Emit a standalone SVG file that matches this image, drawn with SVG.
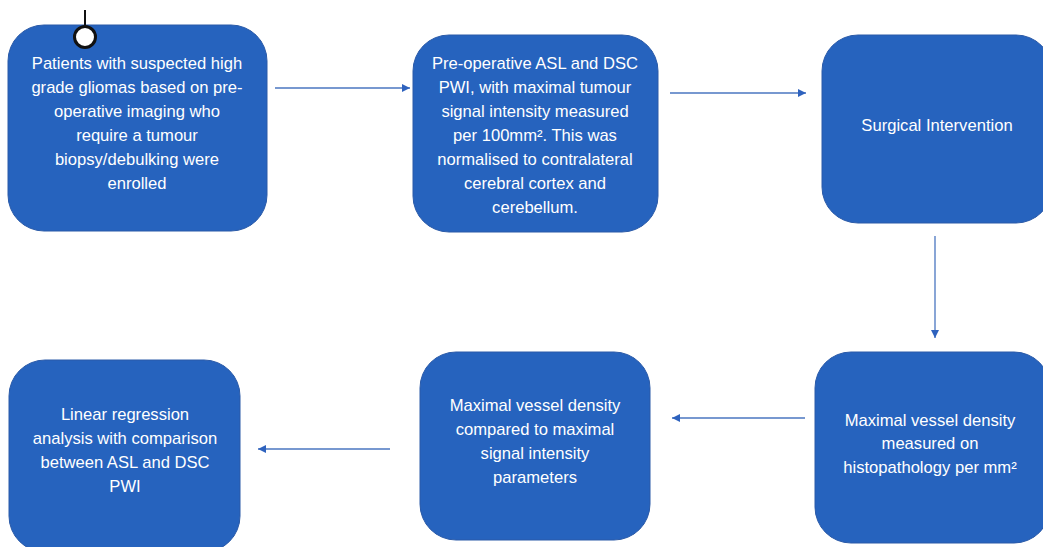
<svg xmlns="http://www.w3.org/2000/svg" width="1043" height="547" viewBox="0 0 1043 547">
<defs>
<style>
.box{fill:#2663BE;stroke:#2A5AA8;stroke-width:1}
.t{font-family:"Liberation Sans",Arial,sans-serif;font-size:16.6px;fill:#ffffff;text-anchor:middle}
.c{stroke:#4A76C0;stroke-width:1.3;fill:none;marker-end:url(#ah)}
</style>
<marker id="ah" viewBox="0 0 10 10" refX="10" refY="5" markerWidth="8" markerHeight="8" markerUnits="userSpaceOnUse" orient="auto">
<path d="M0,0 L10,5 L0,10 z" fill="#2E62BE"/>
</marker>
</defs>
<rect width="1043" height="547" fill="#ffffff"/>
<g id="connectors">
<line class="c" x1="275" y1="88" x2="410" y2="88"/>
<line class="c" x1="670" y1="93" x2="806" y2="93"/>
<line class="c" x1="935" y1="236" x2="935" y2="338"/>
<line class="c" x1="805" y1="418" x2="672" y2="418"/>
<line class="c" x1="390" y1="449" x2="258" y2="449"/>
</g>
<g id="n1">
<rect class="box" x="8" y="25" width="259" height="206" rx="36"/>
<text class="t"><tspan x="137" y="69">Patients with suspected high</tspan><tspan x="137" y="93">grade gliomas based on pre-</tspan><tspan x="137" y="117">operative imaging who</tspan><tspan x="137" y="141">require a tumour</tspan><tspan x="137" y="165">biopsy/debulking were</tspan><tspan x="137" y="189">enrolled</tspan></text>
</g>
<g id="handle">
<line x1="85" y1="10" x2="85" y2="25" stroke="#111" stroke-width="2"/>
<circle cx="85" cy="37" r="10.5" fill="#ffffff" stroke="#111" stroke-width="3"/>
</g>
<g id="n2">
<rect class="box" x="413" y="35" width="245" height="197" rx="36"/>
<text class="t"><tspan x="535" y="69">Pre-operative ASL and DSC</tspan><tspan x="535" y="93">PWI, with maximal tumour</tspan><tspan x="535" y="117">signal intensity measured</tspan><tspan x="535" y="141">per 100mm². This was</tspan><tspan x="535" y="165">normalised to contralateral</tspan><tspan x="535" y="189">cerebral cortex and</tspan><tspan x="535" y="213">cerebellum.</tspan></text>
</g>
<g id="n3">
<rect class="box" x="822" y="35" width="230" height="188" rx="36"/>
<text class="t"><tspan x="937" y="131">Surgical Intervention</tspan></text>
</g>
<g id="n4">
<rect class="box" x="815" y="352" width="235" height="191" rx="36"/>
<text class="t"><tspan x="930" y="426">Maximal vessel density</tspan><tspan x="930" y="449">measured on</tspan><tspan x="930" y="473">histopathology per mm²</tspan></text>
</g>
<g id="n5">
<rect class="box" x="420" y="352" width="230" height="188" rx="36"/>
<text class="t"><tspan x="535" y="411">Maximal vessel density</tspan><tspan x="535" y="435">compared to maximal</tspan><tspan x="535" y="459">signal intensity</tspan><tspan x="535" y="483">parameters</tspan></text>
</g>
<g id="n6">
<rect class="box" x="9" y="360" width="231" height="192" rx="36"/>
<text class="t"><tspan x="125" y="420">Linear regression</tspan><tspan x="125" y="444">analysis with comparison</tspan><tspan x="125" y="468">between ASL and DSC</tspan><tspan x="125" y="492">PWI</tspan></text>
</g>
</svg>
